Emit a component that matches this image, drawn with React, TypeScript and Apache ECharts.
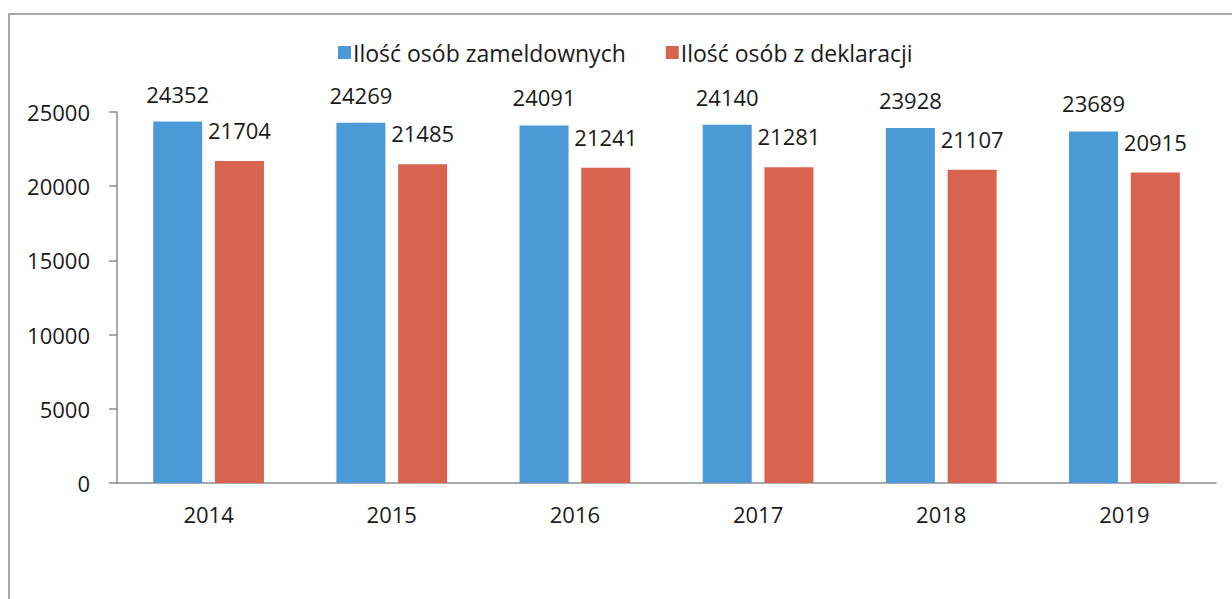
import React, { useEffect, useRef } from "react";
import * as echarts from "echarts";

const categories = ["2014", "2015", "2016", "2017", "2018", "2019"];
const zameldowanych = [24352, 24269, 24091, 24140, 23928, 23689];
const zDeklaracji = [21704, 21485, 21241, 21281, 21107, 20915];
const seriesNames = ["Ilość osób zameldownych", "Ilość osób z deklaracji"];

const FONT = "'Open Sans', 'Noto Sans', sans-serif";

export default function App() {
  const ref = useRef<HTMLDivElement>(null);
  useEffect(() => {
    if (!ref.current) return;
    const chart = echarts.init(ref.current, null, { renderer: "svg" });
    chart.setOption({
      animation: false,
      backgroundColor: "#ffffff",
      textStyle: { fontFamily: FONT },
      graphic: [
        {
          type: "rect",
          shape: { x: 9, y: 14, width: 1240, height: 600 },
          style: { fill: "none", stroke: "#8a8a8a", lineWidth: 1.5 },
          silent: true,
        },
      ],
      legend: {
        left: 333,
        top: 36,
        itemWidth: 13,
        itemHeight: 13,
        itemGap: 40,
        icon: "rect",
        textStyle: { fontSize: 23, color: "#1a1a1a", fontFamily: FONT, padding: [0, 0, 0, -3] },
        data: seriesNames,
      },
      grid: { left: 117, right: 16, top: 112, bottom: 116 },
      xAxis: {
        type: "category",
        data: categories,
        axisLine: { lineStyle: { color: "#8c8c8c", width: 1.5 } },
        axisTick: { show: false },
        axisLabel: { fontSize: 22, color: "#1a1a1a", margin: 20, fontFamily: FONT },
      },
      yAxis: {
        type: "value",
        min: 0,
        max: 25000,
        interval: 5000,
        splitLine: { show: false },
        axisLine: { show: true, lineStyle: { color: "#8c8c8c", width: 1.5 } },
        axisTick: { show: true, length: 8, lineStyle: { color: "#8c8c8c", width: 1.5 } },
        axisLabel: {
          fontSize: 22,
          color: "#1a1a1a",
          margin: 27,
          fontFamily: FONT,
          formatter: (v: number) => String(v),
        },
      },
      series: [
        {
          name: seriesNames[0],
          type: "bar",
          data: zameldowanych,
          barWidth: 49,
          barGap: "26%",
          itemStyle: { color: "#4b9ad6" },
          label: { show: true, position: "top", distance: 17, fontSize: 22, color: "#1a1a1a", fontFamily: FONT },
        },
        {
          name: seriesNames[1],
          type: "bar",
          data: zDeklaracji,
          barWidth: 49,
          itemStyle: { color: "#d8634f" },
          label: { show: true, position: "top", distance: 20, fontSize: 22, color: "#1a1a1a", fontFamily: FONT },
        },
      ],
    });
    return () => chart.dispose();
  }, []);
  return (
    <div
      ref={ref}
      style={{ position: "fixed", left: 0, top: 0, width: 1232, height: 599 }}
    />
  );
}
